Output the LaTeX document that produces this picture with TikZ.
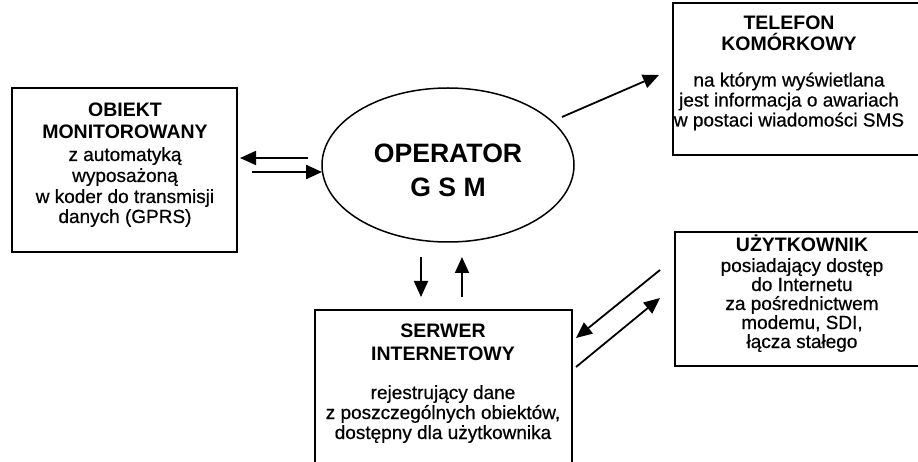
\documentclass[tikz,border=0pt]{standalone}
\usepackage{fontspec}
\setmainfont{Liberation Sans}
\newfontfamily\heavyfont{Liberation Sans}[FakeBold=0.6]
\usetikzlibrary{shapes.geometric,arrows.meta}
\begin{document}
\begin{tikzpicture}[x=1pt,y=-1pt,
  box/.style={draw,line width=1.9pt,rectangle,inner sep=0pt},
  ttl/.style={font=\fontsize{19.5}{22}\selectfont\bfseries,anchor=base,inner sep=0pt},
  txt/.style={font=\heavyfont\fontsize{19}{21}\selectfont,anchor=base,inner sep=0pt},
  big/.style={font=\fontsize{26.6}{30}\selectfont\bfseries,anchor=base,inner sep=0pt},
  arr/.style={line width=1.8pt,-{Triangle[length=16pt,width=14pt]}}]
\useasboundingbox (0,0) rectangle (918,462);
\clip (0,0) rectangle (918,462);
% boxes
\node[box,minimum width=225pt,minimum height=164pt] (obiekt) at (124.5,170) {};
\node[box,minimum width=257pt,minimum height=152pt] (telefon) at (801.5,79) {};
\node[box,minimum width=255pt,minimum height=134pt] (uzyt) at (802.5,299) {};
\node[box,minimum width=257pt,minimum height=160pt] (serwer) at (443.5,390) {};
\node[draw,ellipse,line width=1.5pt,minimum width=252pt,minimum height=154pt,inner sep=0pt] (gsm) at (448,165) {};
% texts
\node[big] (g1) at (448,162.5) {OPERATOR};
\node[big] (g2) at (448,196.5) {G S M};
\node[ttl] (o1) at (125,117) {OBIEKT};
\node[ttl] (o2) at (125,139) {MONITOROWANY};
\node[txt] (o3) at (125,161) {z automatyką};
\node[txt] (o4) at (125,182) {wyposażoną};
\node[txt] (o5) at (125,203) {w koder do transmisji};
\node[txt] (o6) at (125,223) {danych (GPRS)};
\node[ttl] (t1) at (789,30) {TELEFON};
\node[ttl] (t2) at (789,51) {KOMÓRKOWY};
\node[txt] (t3) at (789,86.5) {na którym wyświetlana};
\node[txt] (t4) at (789,106.5) {jest informacja o awariach};
\node[txt] (t5) at (789,126.5) {w postaci wiadomości SMS};
\node[ttl] (u1) at (802,252) {UŻYTKOWNIK};
\node[txt] (u2) at (802,272) {posiadający dostęp};
\node[txt] (u3) at (802,291) {do Internetu};
\node[txt] (u4) at (802,310) {za pośrednictwem};
\node[txt] (u5) at (802,329) {modemu, SDI,};
\node[txt] (u6) at (802,348) {łącza stałego};
\node[ttl] (s1) at (443,337) {SERWER};
\node[ttl] (s2) at (443,360) {INTERNETOWY};
\node[txt] (s3) at (443,399) {rejestrujący dane};
\node[txt] (s4) at (443,419) {z poszczególnych obiektów,};
\node[txt] (s5) at (443,439) {dostępny dla użytkownika};
% arrow ends
\coordinate (a1s) at (308,158); \coordinate (a1e) at (240,158);
\coordinate (a2s) at (252,172); \coordinate (a2e) at (322,172);
\coordinate (a3s) at (421,257); \coordinate (a3e) at (421,297);
\coordinate (a4s) at (462,297); \coordinate (a4e) at (462,257);
\coordinate (a5s) at (562,117); \coordinate (a5e) at (659,75);
\coordinate (a6s) at (660,270); \coordinate (a6e) at (576,338);
\coordinate (a7s) at (576,367); \coordinate (a7e) at (660,298);
\draw[arr] (a1s) -- (a1e);
\draw[arr,line width=2.4pt] (a2s) -- (a2e);
\draw[arr] (a3s) -- (a3e);
\draw[arr] (a4s) -- (a4e);
\draw[arr] (a5s) -- (a5e);
\draw[arr] (a6s) -- (a6e);
\draw[arr] (a7s) -- (a7e);
\end{tikzpicture}
\end{document}
